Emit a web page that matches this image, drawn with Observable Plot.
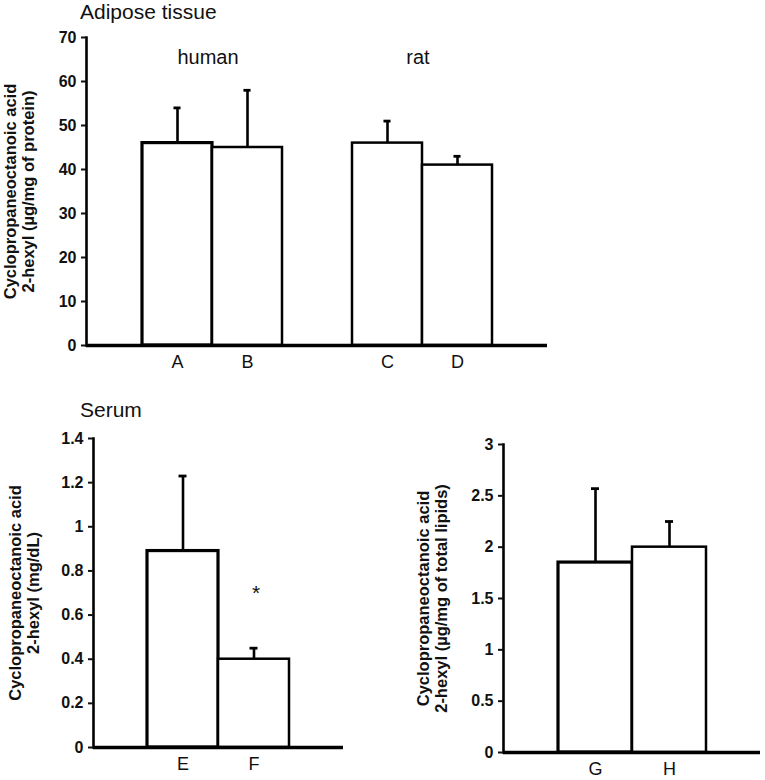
<!DOCTYPE html>
<html>
<head>
<meta charset="utf-8">
<script src="https://cdn.jsdelivr.net/npm/d3@7"></script>
<script src="https://cdn.jsdelivr.net/npm/@observablehq/plot@0.6"></script>
<style>
  html, body { margin: 0; padding: 0; background: white; }
  #wrap { position: relative; width: 765px; height: 780px; background: white; font-family: "Liberation Sans", Arial, sans-serif; }
  .panel { position: absolute; z-index: 1; }
  .title { position: absolute; z-index: 2; font-size: 21px; line-height: 1; color: #111; white-space: nowrap; }
</style>
</head>
<body>
<div id="wrap">
  <div class="panel" id="p1" style="left:0px; top:0px;"></div>
  <div class="panel" id="p2" style="left:0px; top:400px;"></div>
  <div class="panel" id="p3" style="left:400px; top:400px;"></div>
  <div class="title" style="left:80px; top:1px;">Adipose tissue</div>
  <div class="title" style="left:80px; top:399px;">Serum</div>
</div>
<script>
// ---- Data ----
// Adipose tissue (µg/mg of protein)
const adiposeCats = ["A", "B", "C", "D"];
const adiposeMeans = [46, 45, 46, 41];
const adiposeErr = [8, 13, 5, 2];
const adiposeTicks = [0, 10, 20, 30, 40, 50, 60, 70];
const adiposeGroups = ["human", "rat"];
const adiposeGroupAt = ["A", "C"];
const adiposeGroupY = [64, 64];
const adiposeYTitle = ["Cyclopropaneoctanoic acid", "2-hexyl (µg/mg of protein)"];

// Serum (mg/dL)
const serumCats = ["E", "F"];
const serumMeans = [0.89, 0.40];
const serumErr = [0.34, 0.05];
const serumTicks = [0, 0.2, 0.4, 0.6, 0.8, 1, 1.2, 1.4];
const serumStarAt = ["F"];
const serumStarY = [0.70];
const serumYTitle = ["Cyclopropaneoctanoic acid", "2-hexyl (mg/dL)"];

// Serum (µg/mg of total lipids)
const lipidCats = ["G", "H"];
const lipidMeans = [1.85, 2.0];
const lipidErr = [0.72, 0.25];
const lipidTicks = [0, 0.5, 1, 1.5, 2, 2.5, 3];
const lipidYTitle = ["Cyclopropaneoctanoic acid", "2-hexyl (µg/mg of total lipids)"];

const FONT = "'Liberation Sans', Arial, sans-serif";

function panel(cfg) {
  const data = cfg.cats.map((c, i) => ({cat: c, mean: cfg.means[i], top: cfg.means[i] + cfg.err[i], i}));
  const n = cfg.domain.length;
  const bw = (cfg.width - cfg.ml - cfg.mr) / (n + 2 * cfg.po);
  const capW = 8;
  const capInset = (bw - capW) / 2;
  const marks = [
    Plot.barY(data, {x: "cat", y: "mean", fill: "white", stroke: "black",
      strokeWidth: d => d.i === 0 ? 3.2 : 2.5}),
    Plot.ruleX(data, {x: "cat", y1: "mean", y2: "top", stroke: "black", strokeWidth: 2.6}),
    Plot.tickY(data, {x: "cat", y: "top", stroke: "black", strokeWidth: 2.8, insetLeft: capInset, insetRight: capInset}),
    Plot.ruleY([0], {stroke: "black", strokeWidth: 3.6}),
    Plot.frame({anchor: "left", stroke: "black", strokeWidth: 2.6}),
    Plot.axisY({ticks: cfg.ticks, tickFormat: d => String(d), tickSize: 5, tickPadding: 5,
      fontSize: 16, fontWeight: "bold", fill: "#111", strokeWidth: 2, label: null}),
    Plot.axisX({ticks: cfg.cats, tickSize: 0, tickPadding: 10, fontSize: 18, fill: "#111", label: null}),
    Plot.text([cfg.yTitle.join("\n")], {frameAnchor: "left", rotate: -90, dx: cfg.titleDx,
      fontSize: 16.5, fontWeight: "bold", lineHeight: 1.06, textAnchor: "middle", lineAnchor: "middle", fill: "#111"})
  ];
  if (cfg.extra) marks.push(...cfg.extra(bw));
  return Plot.plot({
    width: cfg.width,
    height: cfg.height,
    marginLeft: cfg.ml,
    marginRight: cfg.mr,
    marginTop: cfg.mt,
    marginBottom: cfg.mb,
    style: {fontFamily: FONT, background: "transparent", overflow: "visible", color: "#111"},
    x: {domain: cfg.domain, paddingInner: 0, paddingOuter: cfg.po, align: 0.5, axis: null},
    y: {domain: [cfg.ticks[0], cfg.ticks[cfg.ticks.length - 1]], axis: null},
    marks
  });
}

document.getElementById("p1").append(panel({
  cats: adiposeCats, means: adiposeMeans, err: adiposeErr, ticks: adiposeTicks,
  domain: ["A", "B", "\u00a0", "C", "D"], po: 0.75,
  width: 570, height: 380, ml: 86, mr: 23, mt: 37, mb: 35,
  yTitle: adiposeYTitle, titleDx: -67,
  extra: bw => [
    Plot.text(adiposeGroups.map((g, i) => ({g, x: adiposeGroupAt[i], y: adiposeGroupY[i]})),
      {x: "x", y: "y", text: "g", dx: bw / 2 - 5, fontSize: 20, lineAnchor: "bottom", fill: "#111"})
  ]
}));

document.getElementById("p2").append(panel({
  cats: serumCats, means: serumMeans, err: serumErr, ticks: serumTicks,
  domain: serumCats, po: 0.76,
  width: 370, height: 380, ml: 93, mr: 27, mt: 38, mb: 33,
  yTitle: serumYTitle, titleDx: -69,
  extra: () => [
    Plot.text(serumStarAt.map((c, i) => ({c, y: serumStarY[i]})),
      {x: "c", y: "y", text: () => "*", fontSize: 21, dx: 2, fill: "#111"})
  ]
}));

document.getElementById("p3").append(panel({
  cats: lipidCats, means: lipidMeans, err: lipidErr, ticks: lipidTicks,
  domain: lipidCats, po: 0.736,
  width: 365, height: 380, ml: 103, mr: 5, mt: 44, mb: 28,
  yTitle: lipidYTitle, titleDx: -71
}));
</script>
</body>
</html>
